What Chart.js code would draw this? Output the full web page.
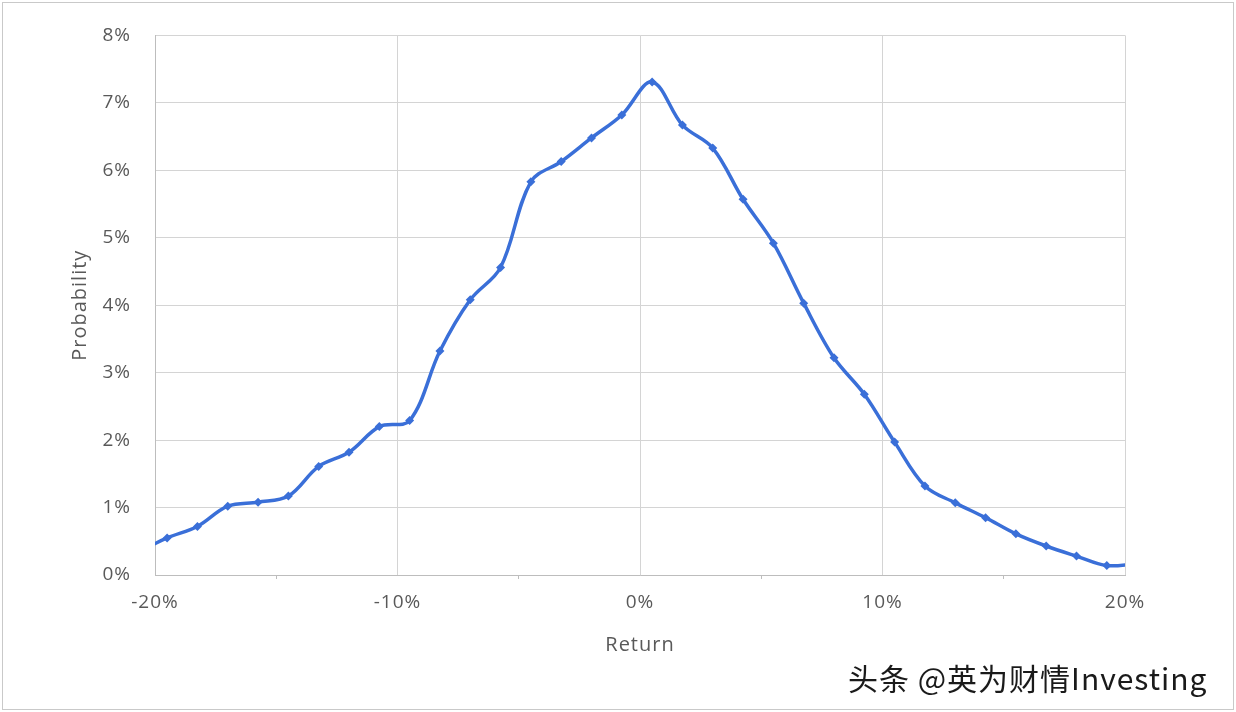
<!DOCTYPE html>
<html>
<head>
<meta charset="utf-8">
<script src="https://cdn.jsdelivr.net/npm/chart.js@4.4.1/dist/chart.umd.min.js"></script>
<style>
  html, body { margin: 0; padding: 0; background: #fff; }
  #wrap { position: relative; width: 1236px; height: 712px; }
  #frame { position: absolute; left: 2px; top: 2px; width: 1230px; height: 706px; border: 1px solid #c9c9c9; pointer-events: none; }
  #mark { position: absolute; left: 848px; top: 655px; font: 30px "Noto Sans CJK SC", sans-serif; letter-spacing: 1px; color: #1a1a1a; text-shadow: 1px 1px 0 #fff; white-space: nowrap; }
</style>
</head>
<body>
<div id="wrap">
  <canvas id="distChart" width="1236" height="712"></canvas>
  <div id="frame"></div>
  <div id="mark">头条 @英为财情Investing</div>
</div>
<script>
// return buckets (%) and their probability (%)
const returns = [-20.75, -19.5, -18.25, -17, -15.75, -14.5, -13.25, -12, -10.75, -9.5,
  -8.25, -7, -5.75, -4.5, -3.25, -2, -0.75, 0.5, 1.75, 3,
  4.25, 5.5, 6.75, 8, 9.25, 10.5, 11.75, 13, 14.25, 15.5,
  16.75, 18, 19.25, 20.5];
const probability = [0.33, 0.55, 0.72, 1.02, 1.08, 1.17, 1.61, 1.82, 2.20, 2.29,
  3.32, 4.08, 4.56, 5.83, 6.13, 6.48, 6.82, 7.31, 6.67, 6.33,
  5.57, 4.92, 4.03, 3.22, 2.68, 1.97, 1.32, 1.07, 0.85, 0.61,
  0.43, 0.28, 0.14, 0.17];
const xLabelTicks = [-20, -10, 0, 10, 20];

const lineColor = '#3a6fd8';
const gridColor = '#d4d4d4';
const textColor = '#595959';
const fontFamily = '"Open Sans", sans-serif';

const points = returns.map((r, i) => ({ x: r, y: probability[i] }));

// the original text is spaced out a little
const spacing = {
  id: 'spacing',
  beforeDraw(chart) { chart.ctx.letterSpacing = '1px'; }
};

new Chart(document.getElementById('distChart').getContext('2d'), {
  type: 'line',
  data: {
    datasets: [{
      label: 'Probability',
      data: points,
      borderColor: lineColor,
      backgroundColor: lineColor,
      borderWidth: 3.5,
      tension: 0.35,
      pointStyle: 'rectRot',
      pointRadius: 4.5,
      pointBorderWidth: 0,
      fill: false
    }]
  },
  plugins: [spacing],
  options: {
    responsive: false,
    animation: false,
    layout: { padding: { left: 60, top: 33, right: 111, bottom: 50 } },
    plugins: { legend: { display: false }, tooltip: { enabled: false } },
    scales: {
      x: {
        type: 'linear',
        min: -20,
        max: 20,
        afterBuildTicks: scale => { scale.ticks = [-20, -15, -10, -5, 0, 5, 10, 15, 20].map(v => ({ value: v })); },
        afterFit: scale => { scale.height = 712 - 575 - 50; },
        border: { color: '#bdbdbd', width: 1 },
        grid: {
          color: ctx => (xLabelTicks.includes(ctx.tick.value) ? gridColor : 'rgba(0,0,0,0)'),
          tickColor: ctx => (xLabelTicks.includes(ctx.tick.value) ? 'rgba(0,0,0,0)' : '#bdbdbd'),
          tickLength: 4
        },
        ticks: {
          padding: 12,
          color: textColor,
          font: { family: fontFamily, size: 19 },
          callback: v => (xLabelTicks.includes(v) ? v + '%' : '')
        },
        title: {
          display: true,
          text: 'Return',
          color: textColor,
          font: { family: fontFamily, size: 20 },
          padding: { top: 0, bottom: 5 }
        }
      },
      y: {
        min: 0,
        max: 8,
        afterFit: scale => { scale.width = 155 - 60; },
        border: { color: '#bdbdbd', width: 1 },
        grid: { color: gridColor, drawTicks: false },
        ticks: {
          stepSize: 1,
          padding: 24,
          color: textColor,
          font: { family: fontFamily, size: 19 },
          callback: v => v + '%'
        },
        title: {
          display: true,
          text: 'Probability',
          color: textColor,
          font: { family: fontFamily, size: 20 },
          padding: { top: 8, bottom: 0 }
        }
      }
    }
  }
});
</script>
</body>
</html>
